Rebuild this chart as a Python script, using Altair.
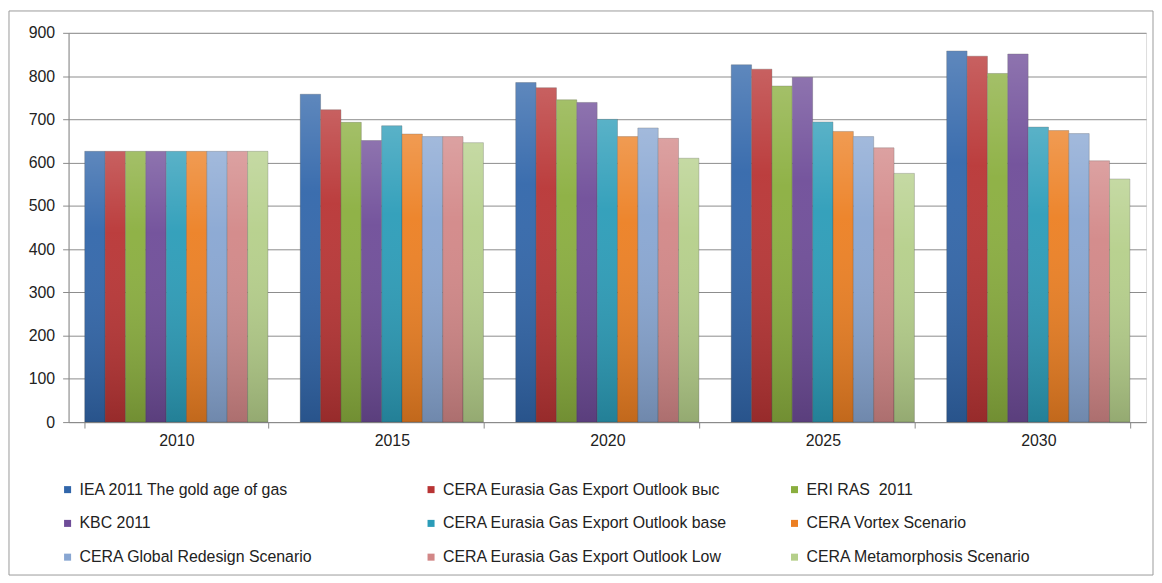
import altair as alt
import pandas as pd

years = ["2010", "2015", "2020", "2025", "2030"]
series = [
    "IEA 2011 The gold age of gas",
    "CERA Eurasia Gas Export Outlook выс",
    "ERI RAS\u00a0 2011",
    "KBC 2011",
    "CERA Eurasia Gas Export Outlook base",
    "CERA Vortex Scenario",
    "CERA Global Redesign Scenario",
    "CERA Eurasia Gas Export Outlook Low",
    "CERA Metamorphosis Scenario",
]
iea = [626, 758, 785, 826, 858]
cera_high = [626, 722, 773, 816, 846]
eri_ras = [626, 693, 745, 777, 806]
kbc = [626, 651, 739, 797, 851]
cera_base = [626, 685, 700, 694, 682]
vortex = [626, 666, 660, 672, 674]
global_redesign = [626, 660, 680, 660, 667]
cera_low = [626, 660, 656, 634, 604]
metamorphosis = [626, 646, 610, 575, 562]
values = [iea, cera_high, eri_ras, kbc, cera_base, vortex, global_redesign, cera_low, metamorphosis]
colors = ["#3166AA", "#B83434", "#8AAE3E", "#6E4C98", "#2B9CB8", "#EC7F22", "#88A6D2", "#D28787", "#B5CF8A"]

rows = []
for s, vals in zip(series, values):
    for yr, v in zip(years, vals):
        rows.append({"year": yr, "series": s, "value": v})
df = pd.DataFrame(rows)

W, H = 1085, 392
font = "Liberation Sans"

x_enc = alt.X("year:N", sort=years,
              scale=alt.Scale(paddingInner=0.15, paddingOuter=0.075),
              axis=alt.Axis(title=None, labelAngle=0, labelFontSize=16, labelPadding=5,
                            labelColor="#222", domainColor="#8a8a8a", tickColor="#8a8a8a",
                            tickSize=6, tickBand="extent", grid=False))
xo_enc = alt.XOffset("series:N", sort=series, scale=alt.Scale(paddingInner=0.0, paddingOuter=0.0))
y_enc = alt.Y("value:Q", scale=alt.Scale(domain=[0, 900], nice=False),
              axis=alt.Axis(title=None, values=list(range(0, 1000, 100)), labelFontSize=16,
                            labelPadding=8, labelColor="#222", domainColor="#8a8a8a",
                            tickColor="#8a8a8a", tickSize=6, gridColor="#8c8c8c"))

bars = alt.Chart(df).mark_bar(stroke="#404040", strokeWidth=0.6, strokeOpacity=0.45).encode(
    x=x_enc, xOffset=xo_enc, y=y_enc,
    color=alt.Color("series:N", sort=series,
                    scale=alt.Scale(domain=series, range=colors),
                    legend=alt.Legend(title=None, orient="none", legendX=-9, legendY=452,
                                      direction="horizontal", columns=3, gridAlign="all",
                                      columnPadding=59, rowPadding=18, padding=0,
                                      symbolType="square", symbolSize=50,
                                      symbolStrokeWidth=0, labelFontSize=16, labelColor="#222",
                                      labelLimit=500, labelOffset=4)),
)

overlay = alt.Chart(df).mark_bar(
    fill=alt.Gradient(gradient="linear", x1=0, y1=0, x2=0, y2=1,
                      stops=[alt.GradientStop(color="rgba(255,255,255,0.22)", offset=0),
                             alt.GradientStop(color="rgba(255,255,255,0.05)", offset=0.3),
                             alt.GradientStop(color="rgba(0,0,0,0.18)", offset=1)])
).encode(x=x_enc, xOffset=xo_enc, y=y_enc)

border = alt.Chart(pd.DataFrame({"k": [0]})).mark_rect(
    fillOpacity=0, stroke="#9a9a9a", strokeWidth=1
).encode(x=alt.value(-60), x2=alt.value(W + 7), y=alt.value(-22), y2=alt.value(H + 154))

chart = alt.layer(border, bars, overlay).properties(
    width=W, height=H, padding=0
).configure_view(stroke=None).configure(font=font)

chart.save("out.html", embed_options={"renderer": "svg", "actions": False})
